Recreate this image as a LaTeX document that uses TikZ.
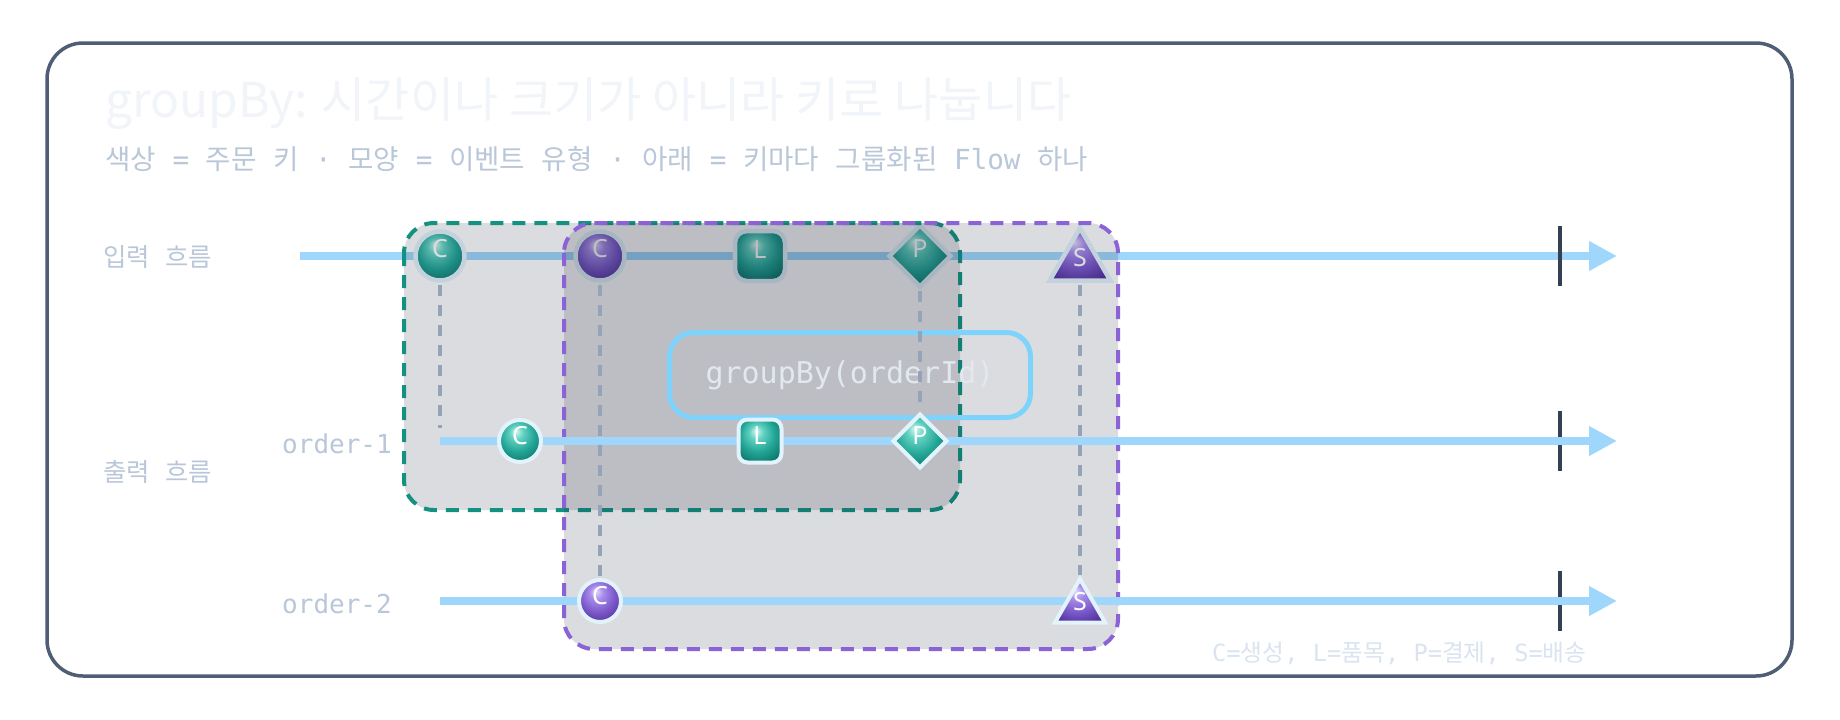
\documentclass[tikz,border=0pt]{standalone}
\usepackage{fontspec}
\usetikzlibrary{shapes.geometric,arrows.meta}
\newfontfamily\krfont{Noto Sans CJK KR}
\newfontfamily\monofont{DejaVu Sans Mono}
\newfontfamily\letterfont{Noto Sans}
\newcommand\K[1]{{\krfont #1}}
\definecolor{framec}{HTML}{4F5E74}
\definecolor{titlec}{HTML}{F1F4F8}
\definecolor{subc}{HTML}{B9C7D9}
\definecolor{legc}{HTML}{DAE4F1}
\definecolor{flowc}{HTML}{9FD6FB}
\definecolor{skyc}{HTML}{7DD3FC}
\definecolor{tickc}{HTML}{334155}
\definecolor{connc}{HTML}{94A3B8}
\definecolor{greenc}{HTML}{149281}
\definecolor{purplec}{HTML}{8B63D6}
\definecolor{overc}{HTML}{0F172A}
\definecolor{haloc}{HTML}{E3F3FC}
\definecolor{gbtext}{HTML}{E2E8F0}
\definecolor{tealA}{HTML}{D8F8F1}
\definecolor{tealB}{HTML}{62D2C2}
\definecolor{tealC}{HTML}{22A596}
\definecolor{tealD}{HTML}{0B6F66}
\definecolor{purpA}{HTML}{E4DAFC}
\definecolor{purpB}{HTML}{A88DEB}
\definecolor{purpC}{HTML}{7C5ACB}
\definecolor{purpD}{HTML}{4E2D95}
\pgfdeclareradialshading{tealball}{\pgfpoint{-5bp}{12bp}}{color(0bp)=(tealA); color(8bp)=(tealB); color(20bp)=(tealC); color(34bp)=(tealD); color(50bp)=(tealD)}
\pgfdeclareradialshading{purpball}{\pgfpoint{-5bp}{12bp}}{color(0bp)=(purpA); color(8bp)=(purpB); color(20bp)=(purpC); color(34bp)=(purpD); color(50bp)=(purpD)}
\begin{document}
\begin{tikzpicture}[x=1pt,y=-1pt,
  flowline/.style={draw=flowc, line width=7.5pt, -{Triangle[length=28pt,width=28pt]}},
  tickmark/.style={draw=tickc, line width=4.5pt},
  winbox/.style={fill=overc, fill opacity=0.15, line width=4pt, dash pattern=on 13pt off 9pt, rounded corners=30pt},
  conn/.style={draw=connc, line width=3.5pt, dash pattern=on 11pt off 9pt, shorten <=4pt, shorten >=4pt},
  ev/.style={draw=haloc, line width=4pt, inner sep=0pt, outer sep=0pt},
  evc/.style={ev, circle, minimum size=42pt},
  evl/.style={ev, rectangle, rounded corners=9pt, minimum size=43pt},
  evp/.style={ev, diamond, aspect=1, minimum size=53pt},
  evs/.style={ev, regular polygon, regular polygon sides=3, minimum size=58pt},
  big/.style={line width=4.5pt},
  bigc/.style={evc, big, minimum size=49pt},
  bigl/.style={evl, big, minimum size=50pt, rounded corners=12pt},
  bigp/.style={evp, big, minimum size=61pt},
  bigs/.style={evs, big, minimum size=70pt},
  tealev/.style={shade, shading=tealball},
  purpev/.style={shade, shading=purpball},
  evtxt/.style={font=\letterfont\fontsize{25}{25}\selectfont, text=white, inner sep=0pt},
  lbl/.style={font=\monofont\fontsize{26}{30}\selectfont, text=subc, inner sep=0pt},
  gbox/.style={draw=skyc, line width=5pt, rounded corners=24pt, minimum width=361pt, minimum height=85pt, font=\monofont\fontsize{30}{32}\selectfont, text=gbtext}
]
\useasboundingbox (0,0) rectangle (1840,720);
\fill[white] (0,0) rectangle (1840,720);
\draw[framec, line width=3.5pt, rounded corners=36pt] (47,43) rectangle (1792,676);

% texts
\node[anchor=base west, inner sep=0pt, text=titlec, font=\krfont\fontsize{48}{52}\selectfont] (title) at (105,117) {groupBy: 시간이나 크기가 아니라 키로 나눕니다};
\node[anchor=base west, inner sep=0pt, text=subc, font=\monofont\fontsize{27.6}{30}\selectfont] (sub) at (105,169) {\K{색상} = \K{주문} \K{키} · \K{모양} = \K{이벤트} \K{유형} · \K{아래} = \K{키마다} \K{그룹화된} Flow \K{하나}};
\node[lbl, anchor=base west, font=\krfont\fontsize{25.4}{28}\selectfont] (inlbl) at (103,266) {입력\hspace{0.6em}흐름};
\node[lbl, anchor=base west, font=\krfont\fontsize{25.4}{28}\selectfont] (outlbl) at (103,481) {출력\hspace{0.6em}흐름};
\node[lbl, anchor=base east] (ord1) at (392,453) {order-1};
\node[lbl, anchor=base east] (ord2) at (392,613) {order-2};
\node[anchor=base west, inner sep=0pt, text=legc, font=\monofont\fontsize{23.7}{26}\selectfont] (legend) at (1212,661) {C=\K{생성}, L=\K{품목}, P=\K{결제}, S=\K{배송}};

% input stream
\coordinate (inS) at (300,256);
\coordinate (inE) at (1617,256);
\draw[flowline] (inS) -- (inE);

\node[bigc, tealev] (i1) at (440,256) {};
\node[bigc, purpev] (i2) at (600,256) {};
\node[bigl, tealev] (i3) at (760,256) {};
\node[bigp, tealev] (i4) at (920,256) {};
\node[bigs, purpev] (i5) at (1080,263) {};
\node[evtxt] (ti1) at (440,249) {C};
\node[evtxt] (ti2) at (600,249) {C};
\node[evtxt] (ti3) at (760,250) {L};
\node[evtxt] (ti4) at (920,249) {P};
\node[evtxt] (ti5) at (1080,258) {S};

% window boxes
\path[winbox, draw=greenc] (404,223) rectangle (960,510);
\path[winbox, draw=purplec] (564,223) rectangle (1118,649);

% ticks
\draw[tickmark] (1560,226) -- (1560,286);
\draw[tickmark] (1560,411) -- (1560,471);
\draw[tickmark] (1560,571) -- (1560,631);

% output streams
\coordinate (o1S) at (440,441);
\coordinate (o1E) at (1617,441);
\coordinate (o2S) at (440,601);
\coordinate (o2E) at (1617,601);
\draw[flowline] (o1S) -- (o1E);
\draw[flowline] (o2S) -- (o2E);

% group-by operator
\node[gbox] (gb) at (850,375) {groupBy(orderId)};

% output events
\node[evc, tealev] (o1) at (520,441) {};
\node[evl, tealev] (o2) at (760,441) {};
\node[evp, tealev] (o3) at (920,441) {};
\node[evc, purpev] (o4) at (600,601) {};
\node[evs, purpev] (o5) at (1080,608) {};
\node[evtxt] (to1) at (520,436) {C};
\node[evtxt] (to2) at (760,436) {L};
\node[evtxt] (to3) at (920,436) {P};
\node[evtxt] (to4) at (600,596) {C};
\node[evtxt] (to5) at (1080,602) {S};

% connectors
\coordinate (c1end) at (440,432);
\draw[conn] (i1.south) -- (c1end);
\draw[conn] (i2.south) -- (o4.north);
\draw[conn] (i4.south) -- (o3.north);
\draw[conn] (i5.south) -- (o5.north);
\end{tikzpicture}
\end{document}
